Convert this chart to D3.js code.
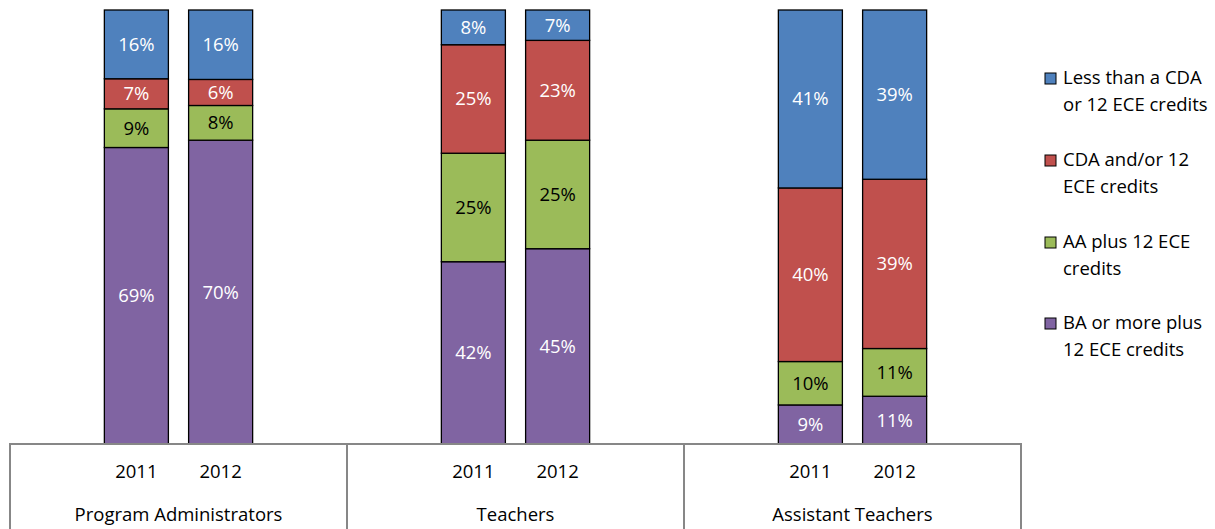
<!DOCTYPE html>
<html>
<head>
<meta charset="utf-8">
<style>
  body { margin: 0; background: #fff; }
  text { font-family: "Open Sans", Lato, sans-serif; }
</style>
</head>
<body>
<div id="chart"></div>
<script src="https://d3js.org/d3.v7.min.js"></script>
<script>
// data
var groups = ["Program Administrators", "Teachers", "Assistant Teachers"]
var years = ["2011", "2012"]
var levels = ["BA or more plus 12 ECE credits", "AA plus 12 ECE credits",
              "CDA and/or 12 ECE credits", "Less than a CDA or 12 ECE credits"]
// one array per level, order: PA 2011, PA 2012, T 2011, T 2012, AT 2011, AT 2012
var baValues   = [69, 70, 42, 45, 9, 11]
var aaValues   = [9, 8, 25, 25, 10, 11]
var cdaValues  = [7, 6, 25, 23, 40, 39]
var lessValues = [16, 16, 8, 7, 41, 39]

var legendLines = [
  ["Less than a CDA", "or 12 ECE credits"],
  ["CDA and/or 12", "ECE credits"],
  ["AA plus 12 ECE", "credits"],
  ["BA or more plus", "12 ECE credits"]
]

var colors = ["#8064A2", "#9BBB59", "#C0504D", "#4F81BD"]
var textColors = ["#fff", "#000", "#fff", "#fff"]

var width = 1215, height = 529
var plotLeft = 10, plotRight = 1021, plotTop = 10, axisY = 444
var fontSize = "18.5px"

var svg = d3.select("#chart").append("svg")
  .attr("width", width)
  .attr("height", height)

// build rows
var rows = []
groups.forEach(function(g, gi) {
  years.forEach(function(y, yi) {
    var i = gi * 2 + yi
    rows.push({ group: g, year: y,
      v: [baValues[i], aaValues[i], cdaValues[i], lessValues[i]] })
  })
})

var x0 = d3.scaleBand().domain(groups).range([plotLeft, plotRight])
// each group holds four slots, bars sit in the middle two
var x1 = d3.scaleBand().domain(["a", "2011", "2012", "b"])
  .range([0, x0.bandwidth()])
  .paddingInner(0.24).paddingOuter(0.12)
var yScale = d3.scaleLinear().domain([0, 1]).range([axisY, plotTop])

rows.forEach(function(r) {
  var total = d3.sum(r.v)
  var acc = 0
  var bx = x0(r.group) + x1(r.year)
  r.v.forEach(function(val, k) {
    var y0 = acc / total, y1 = (acc + val) / total
    acc += val
    svg.append("rect")
      .attr("x", bx)
      .attr("y", yScale(y1))
      .attr("width", x1.bandwidth())
      .attr("height", yScale(y0) - yScale(y1))
      .attr("fill", colors[k])
      .attr("stroke", "#000")
      .attr("stroke-width", 1.3)
    svg.append("text")
      .attr("x", bx + x1.bandwidth() / 2)
      .attr("y", (yScale(y0) + yScale(y1)) / 2)
      .attr("dy", "0.35em")
      .attr("text-anchor", "middle")
      .attr("fill", textColors[k])
      .style("font-size", fontSize)
      .text(val + "%")
  })
})

// category axis, drawn like a table
var axisColor = "#878787"
svg.append("line")
  .attr("x1", plotLeft).attr("x2", plotRight)
  .attr("y1", axisY).attr("y2", axisY)
  .attr("stroke", axisColor).attr("stroke-width", 2)

var edges = groups.map(function(g) { return x0(g) }).concat([plotRight])
edges.forEach(function(ex) {
  svg.append("line")
    .attr("x1", ex).attr("x2", ex)
    .attr("y1", axisY - 1).attr("y2", height)
    .attr("stroke", axisColor).attr("stroke-width", 2)
})

groups.forEach(function(g) {
  years.forEach(function(y) {
    svg.append("text")
      .attr("x", x0(g) + x1(y) + x1.bandwidth() / 2)
      .attr("y", 472)
      .attr("dy", "0.35em")
      .attr("text-anchor", "middle")
      .style("font-size", fontSize)
      .text(y)
  })
  svg.append("text")
    .attr("x", x0(g) + x0.bandwidth() / 2)
    .attr("y", 515)
    .attr("dy", "0.35em")
    .attr("text-anchor", "middle")
    .style("font-size", fontSize)
    .text(g)
})

// legend
var legendTop = [78, 160, 242, 323]
legendLines.forEach(function(lines, i) {
  var k = 3 - i
  svg.append("rect")
    .attr("x", 1045).attr("y", legendTop[i] - 5)
    .attr("width", 11).attr("height", 11)
    .attr("fill", colors[k])
    .attr("stroke", "#000").attr("stroke-width", 1)
  lines.forEach(function(t, j) {
    svg.append("text")
      .attr("x", 1063)
      .attr("y", legendTop[i] + j * 26.5)
      .attr("dy", "0.35em")
      .style("font-size", fontSize)
      .text(t)
  })
})
</script>
</body>
</html>
